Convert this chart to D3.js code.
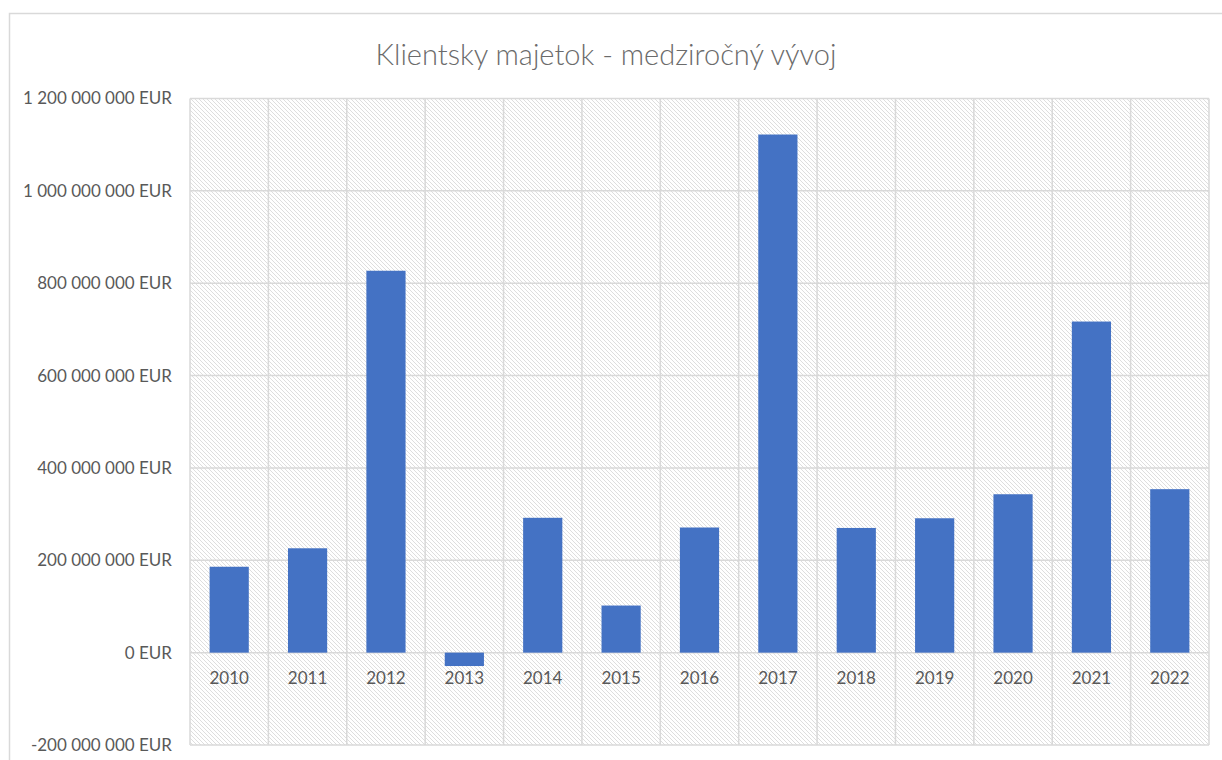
<!DOCTYPE html>
<html>
<head>
<meta charset="utf-8">
<script src="https://cdn.jsdelivr.net/npm/d3@7"></script>
<style>
    body { margin: 0; background: #ffffff; }
    text { font-family: Lato, "Open Sans", sans-serif; fill: #595959; }
</style>
</head>
<body>
<div id="chart"></div>
<script>

// Data (EUR)
var years = ["2010", "2011", "2012", "2013", "2014", "2015", "2016", "2017", "2018", "2019", "2020", "2021", "2022"];
var values = [186000000, 226000000, 827000000, -29000000, 292000000, 102000000, 271000000, 1122000000, 270000000, 291000000, 343000000, 717000000, 354000000];
var yTicks = [-200000000, 0, 200000000, 400000000, 600000000, 800000000, 1000000000, 1200000000];
var chartTitle = "Klientsky majetok - medziročný vývoj";


var chart = {

    settings : {
        width : 1222,//px
        height : 760,//px
        
        plotLeft : 190,//px
        plotTop : 98.5,//px
        plotRight : 1209,//px
        plotBottom : 745,//px
        
        barColor : "#4472c4",
        gridColor : "#d9d9d9",
        textColor : "#595959",
    },
    
    draw : function(){
        var s = chart.settings;
        
        var svg = d3.select("#chart").append("svg")
            .attr("width", s.width)
            .attr("height", s.height);
        
        // hatch pattern for the plot background
        var defs = svg.append("defs");
        var pat = defs.append("pattern")
            .attr("id", "hatch")
            .attr("patternUnits", "userSpaceOnUse")
            .attr("width", 4)
            .attr("height", 4);
        pat.append("rect").attr("width", 4).attr("height", 4).attr("fill", "#ffffff");
        pat.append("path")
            .attr("d", "M-1,-1 L5,5 M-1,3 L1,5 M3,-1 L5,1")
            .attr("stroke", "#dedede")
            .attr("stroke-width", 1);
        
        // outer chart border
        svg.append("rect")
            .attr("x", 9.5).attr("y", 13.5)
            .attr("width", 1230).attr("height", 760)
            .attr("fill", "none")
            .attr("stroke", s.gridColor)
            .attr("stroke-width", 1.5);
        
        var x = d3.scaleBand()
            .domain(years)
            .range([s.plotLeft, s.plotRight])
            .paddingInner(0.5)
            .paddingOuter(0.25);
        
        var y = d3.scaleLinear()
            .domain([-200000000, 1200000000])
            .range([s.plotBottom, s.plotTop]);
        
        // plot area
        svg.append("rect")
            .attr("x", s.plotLeft).attr("y", s.plotTop)
            .attr("width", s.plotRight - s.plotLeft)
            .attr("height", s.plotBottom - s.plotTop)
            .attr("fill", "url(#hatch)");
        
        var step = x.step();
        
        // vertical gridlines between categories
        svg.append("g").selectAll("line")
            .data(d3.range(years.length + 1))
            .join("line")
            .attr("x1", function(i){ return s.plotLeft + i * step; })
            .attr("x2", function(i){ return s.plotLeft + i * step; })
            .attr("y1", s.plotTop)
            .attr("y2", s.plotBottom)
            .attr("stroke", s.gridColor)
            .attr("stroke-width", 1.5);
        
        // horizontal gridlines
        svg.append("g").selectAll("line")
            .data(yTicks)
            .join("line")
            .attr("x1", s.plotLeft)
            .attr("x2", s.plotRight)
            .attr("y1", function(d){ return y(d); })
            .attr("y2", function(d){ return y(d); })
            .attr("stroke", s.gridColor)
            .attr("stroke-width", 1.5);
        
        // y labels
        var fmt = d3.format(",");
        svg.append("g").selectAll("text")
            .data(yTicks)
            .join("text")
            .attr("x", 172)
            .attr("y", function(d){ return y(d); })
            .attr("dy", "0.35em")
            .attr("text-anchor", "end")
            .style("font-size", "17px")
            .text(function(d){ return fmt(d).replace(/,/g, " ").replace("−", "-") + " EUR"; });
        
        // bars
        svg.append("g").selectAll("rect")
            .data(values)
            .join("rect")
            .attr("x", function(d, i){ return x(years[i]); })
            .attr("width", x.bandwidth())
            .attr("y", function(d){ return y(Math.max(0, d)); })
            .attr("height", function(d){ return Math.abs(y(d) - y(0)); })
            .attr("fill", s.barColor);
        
        // category labels
        svg.append("g").selectAll("text")
            .data(years)
            .join("text")
            .attr("x", function(d){ return x(d) + x.bandwidth() / 2; })
            .attr("y", y(0) + 25)
            .attr("dy", "0.35em")
            .attr("text-anchor", "middle")
            .style("font-size", "17px")
            .text(function(d){ return d; });
        
        // title
        svg.append("text")
            .attr("x", 606)
            .attr("y", 55)
            .attr("dy", "0.35em")
            .attr("text-anchor", "middle")
            .style("font-size", "29px")
            .style("font-weight", 300)
            .style("fill", "#6b6b6b")
            .text(chartTitle);
    }

}

chart.draw();
</script>
</body>
</html>
